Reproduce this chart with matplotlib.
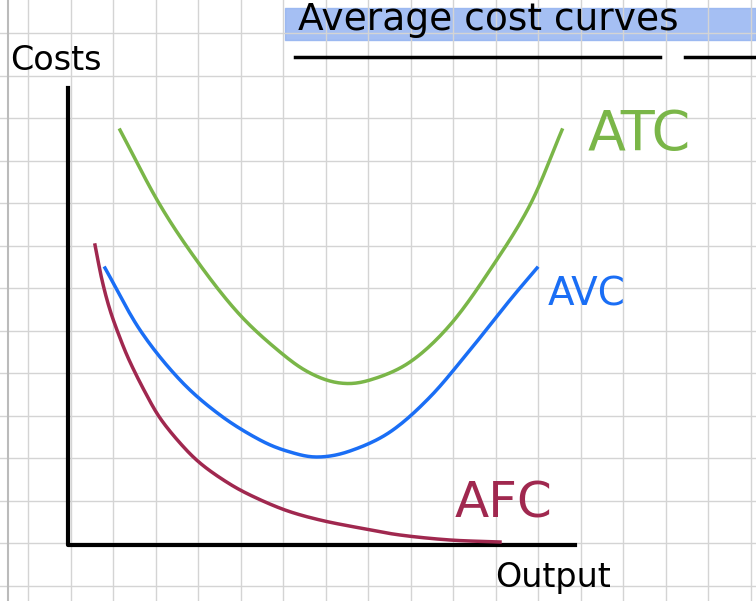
import matplotlib
matplotlib.use("Agg")
import matplotlib.pyplot as plt
import numpy as np

atc_x = [120, 160, 200, 240, 280, 310, 340, 370, 410, 450, 490, 530, 562]
atc_y = [130, 205, 265, 315, 352, 373, 383, 380, 362, 325, 270, 205, 130]
avc_x = [105, 140, 180, 220, 260, 290, 318, 350, 390, 430, 470, 510, 537]
avc_y = [268, 330, 380, 415, 440, 452, 457, 451, 432, 397, 350, 300, 268]
afc_x = [95, 102, 110, 120, 130, 145, 160, 180, 200, 225, 250, 285, 320, 360, 400, 450, 500]
afc_y = [245, 280, 310, 338, 362, 392, 418, 443, 463, 481, 495, 510, 520, 528, 535, 540, 542]

def smooth(xs, ys, n=20):
    p = np.column_stack([xs, ys]).astype(float)
    p = np.vstack([2*p[0]-p[1], p, 2*p[-1]-p[-2]])
    out = []
    for i in range(1, len(p)-2):
        p0, p1, p2, p3 = p[i-1], p[i], p[i+1], p[i+2]
        for t in np.linspace(0, 1, n, endpoint=False):
            out.append(0.5*((2*p1) + (-p0+p2)*t + (2*p0-5*p1+4*p2-p3)*t**2 + (-p0+3*p1-3*p2+p3)*t**3))
    out.append(p[-2])
    out = np.array(out)
    return out[:, 0], out[:, 1]

fig = plt.figure(figsize=(7.56, 6.01), dpi=100)
ax = fig.add_axes([0, 0, 1, 1])
ax.set_xlim(0, 756); ax.set_ylim(601, 0); ax.axis('off')
for gx in np.arange(28, 756, 42.5):
    ax.axvline(gx, color='#d4d4d4', lw=1)
for gy in np.arange(33, 601, 42.5):
    ax.axhline(gy, color='#d4d4d4', lw=1)
ax.axvline(8, color='#bbbbbb', lw=1.5)

ax.plot([68, 68, 575], [88, 545, 545], color='black', lw=3)
ax.plot(*smooth(atc_x, atc_y), color='#7ab648', lw=2.5)
ax.plot(*smooth(avc_x, avc_y), color='#1a6ef5', lw=2.5)
ax.plot(*smooth(afc_x, afc_y), color='#a0284f', lw=2.5)

ax.fill_between([285, 756], 8, 40, color='#8fb0f0', alpha=0.8)
ax.text(298, 20, 'Average cost curves', fontsize=27, va='center', color='black')
ax.plot([295, 660], [57, 57], color='black', lw=2.5)
ax.plot([685, 756], [57, 57], color='black', lw=2.5)
ax.text(10, 60, 'Costs', fontsize=24, va='center', color='black')
ax.text(495, 578, 'Output', fontsize=24, va='center', color='black')
ax.text(588, 135, 'ATC', fontsize=40, va='center', color='#7ab648')
ax.text(548, 295, 'AVC', fontsize=28, va='center', color='#1a6ef5')
ax.text(455, 503, 'AFC', fontsize=36, va='center', color='#a0284f')
fig.savefig('out.png', dpi=100)
